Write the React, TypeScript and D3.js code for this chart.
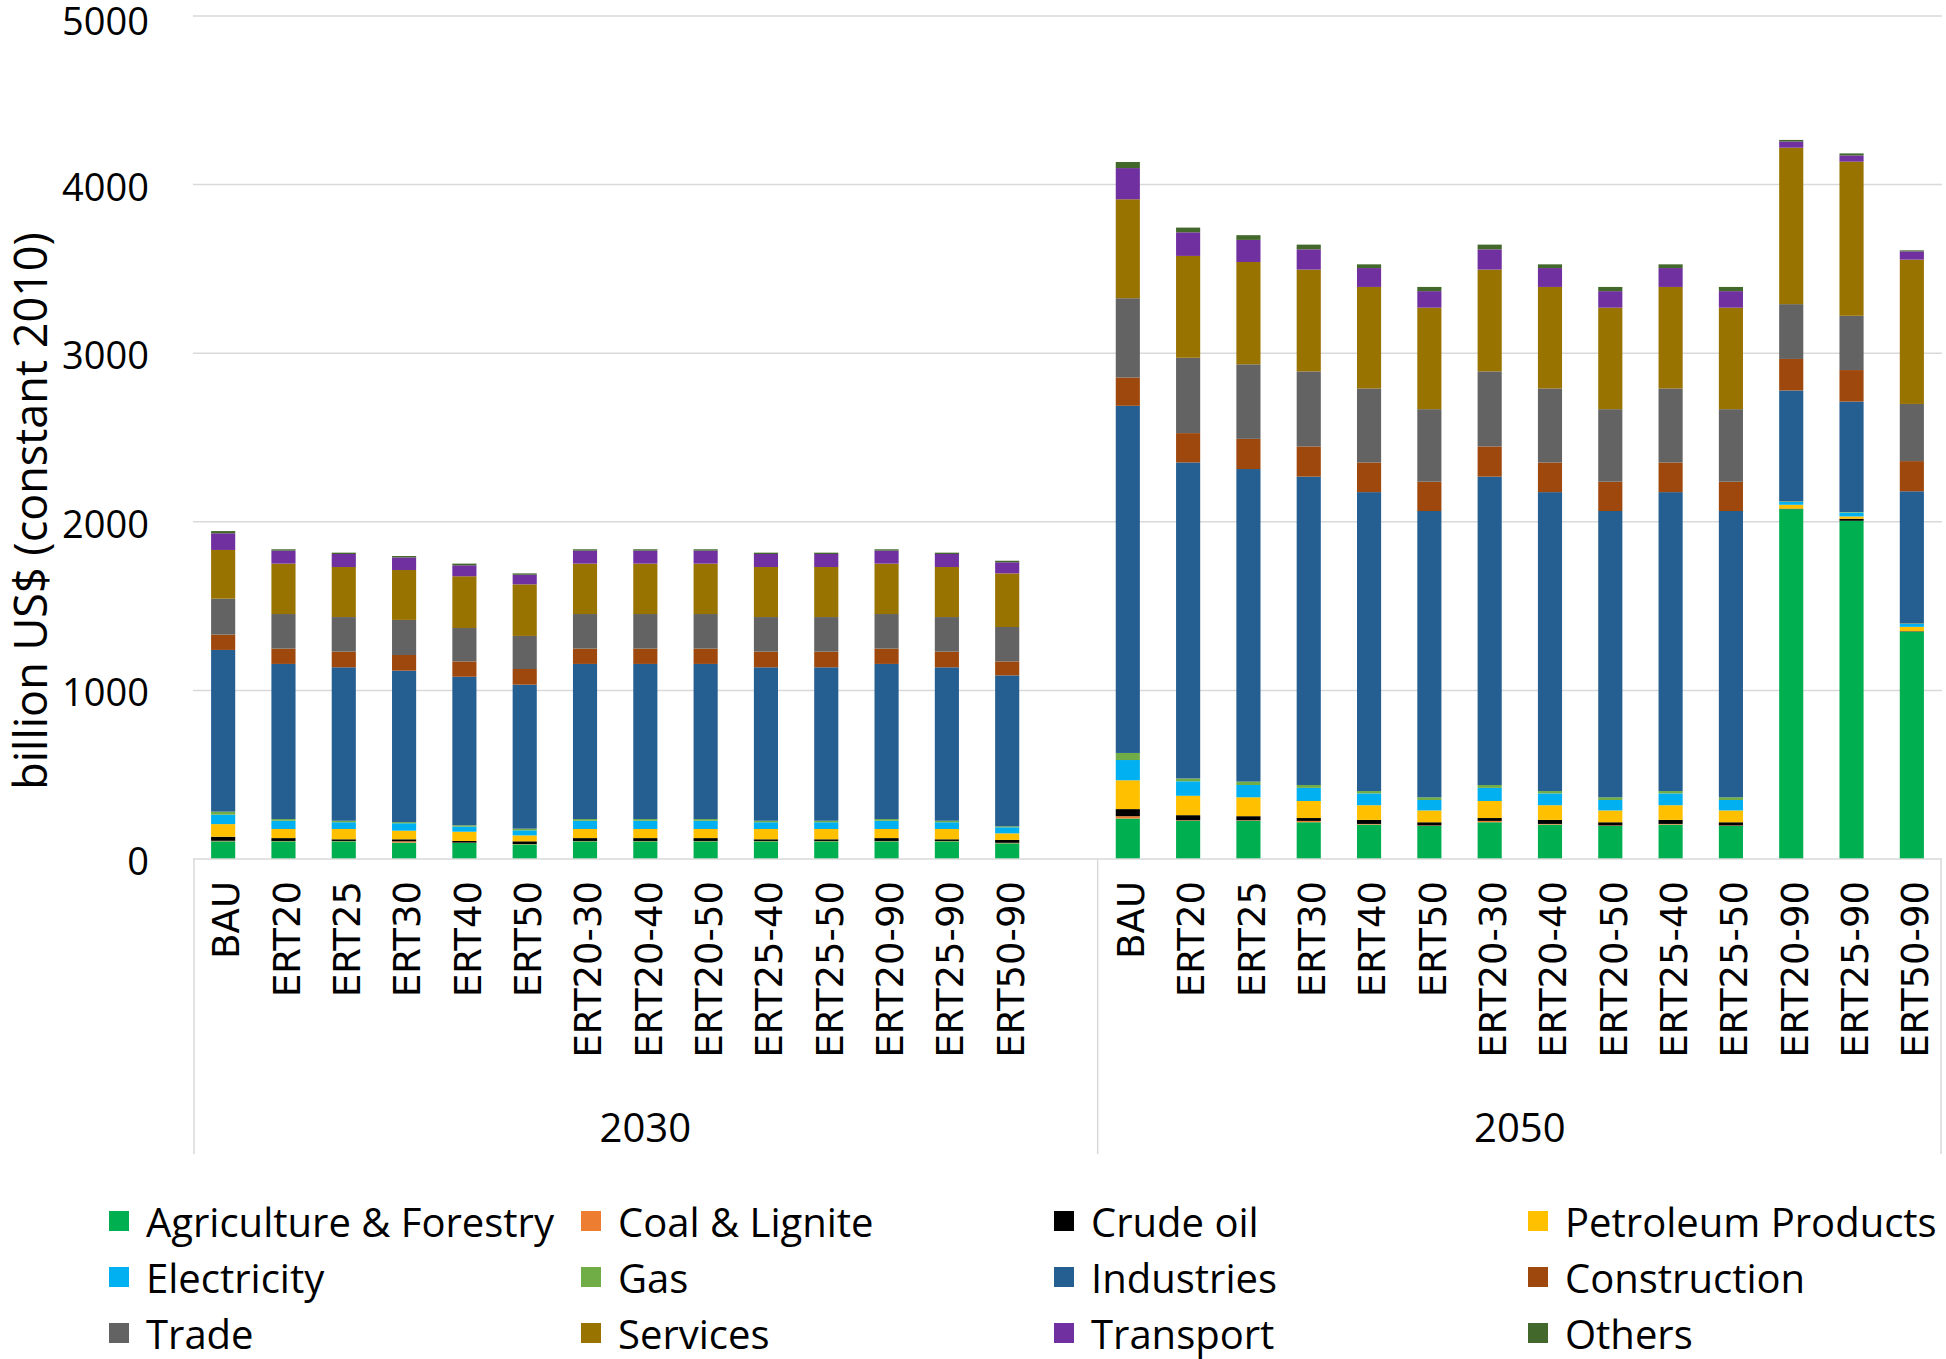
import React from "react";
import * as d3 from "d3";

const scenarios = ["BAU","ERT20","ERT25","ERT30","ERT40","ERT50","ERT20-30","ERT20-40","ERT20-50","ERT25-40","ERT25-50","ERT20-90","ERT25-90","ERT50-90"];
const years = ["2030","2050"];
const yTicks = [0,1000,2000,3000,4000,5000];

const seriesNames = ["Agriculture & Forestry","Coal & Lignite","Crude oil","Petroleum Products","Electricity","Gas","Industries","Construction","Trade","Services","Transport","Others"];
const seriesColors = ["#00B050","#ED7D31","#000000","#FFC000","#00B0F0","#70AD47","#255E91","#9E480E","#636363","#997300","#7030A0","#43682B"];

// 2030 (14 scenarios) then 2050 (14 scenarios)
const agriculture = [105,105,105,97,95,87,105,105,105,105,105,105,105,93, 240,227,227,218,204,196,218,204,196,204,196,2075,2006,1348];
const coal = [3,2,2,8,2,2,2,2,2,2,2,2,2,3, 14,3,3,8,4,3,8,4,3,4,3,0,0,0];
const crude = [24,17,10,12,10,16,17,17,17,10,10,17,10,17, 42,30,24,17,24,19,17,24,19,24,19,3,12,3];
const petroleum = [75,54,61,51,55,35,54,54,54,61,61,54,61,39, 171,115,112,101,87,70,101,87,70,87,70,23,14,26];
const electricity = [56,49,40,44,30,30,49,49,49,40,40,49,40,36, 120,86,73,78,70,62,78,70,62,70,62,17,23,17];
const gas = [18,10,9,7,8,10,10,10,10,9,9,10,9,6, 42,17,20,17,14,16,17,14,16,14,16,3,3,3];
const industries = [959,920,910,898,881,854,920,920,920,910,910,920,910,895, 2059,1874,1854,1829,1773,1698,1829,1773,1698,1773,1698,658,655,784];
const construction = [91,91,93,93,91,93,91,91,91,93,93,91,93,83, 168,174,179,179,176,174,179,176,174,176,174,187,187,179];
const trade = [213,205,205,208,198,196,205,205,205,205,205,205,205,204, 470,447,442,445,439,430,445,439,430,439,430,325,322,339];
const services = [289,299,297,296,307,306,299,299,299,297,297,299,297,318, 587,604,607,604,602,602,604,602,602,602,602,928,914,856];
const transport = [99,77,77,75,65,57,77,77,77,77,77,77,77,66, 185,140,131,120,112,98,120,112,98,112,98,37,37,49];
const others = [13,8,8,8,10,8,8,8,8,8,8,8,8,9, 36,28,28,28,22,25,28,22,25,22,25,9,12,6];

const seriesValues = [agriculture,coal,crude,petroleum,electricity,gas,industries,construction,trade,services,transport,others];

const FONT = "'Open Sans', 'Noto Sans', sans-serif";
const TICK_FONT = "'DejaVu Sans', 'Open Sans', sans-serif";

export default function App() {
  const W = 1946, H = 1359;
  const left = 193, right = 1942, top = 16, bottom = 859;

  // categories with a blank spacer between the two years
  const keys: string[] = [];
  years.forEach((yr, yi) => {
    scenarios.forEach((s) => keys.push(yr + "|" + s));
    if (yi === 0) keys.push("spacer");
  });

  const rows = [] as any[];
  years.forEach((yr, yi) => {
    scenarios.forEach((s, si) => {
      const r: any = { key: yr + "|" + s, label: s };
      seriesNames.forEach((n, k) => { r[n] = seriesValues[k][yi * scenarios.length + si]; });
      rows.push(r);
    });
  });

  const x = d3.scaleBand<string>().domain(keys).range([left, right]).paddingInner(0.6).paddingOuter(0.3);
  const y = d3.scaleLinear().domain([0, 5000]).range([bottom, top]);
  const stack = d3.stack<any>().keys(seriesNames)(rows);

  const step = x.step();
  const dividerX = left + step * (scenarios.length + 1);
  const axisBottom = 1154;

  const legendCols = [109, 581, 1054, 1528];
  const legendRows = [1221, 1277, 1333];

  return (
    <svg width={W} height={H} style={{ position: "absolute", left: 0, top: 0, background: "#fff" }} fontFamily={FONT}>
      <rect x={0} y={0} width={W} height={H} fill="#fff" />
      {yTicks.map((t) => (
        <g key={t}>
          {t > 0 && <line x1={left} x2={right} y1={y(t)} y2={y(t)} stroke="#D9D9D9" strokeWidth={1.5} />}
          <text x={149} y={Math.max(y(t) + 1, 20)} textAnchor="end" dominantBaseline="central" fontSize={38} fill="#000">{t}</text>
        </g>
      ))}
      {stack.map((layer, li) => (
        <g key={layer.key} fill={seriesColors[li]}>
          {layer.map((d: any, i: number) => (
            <rect key={i} x={x(d.data.key)} width={x.bandwidth()} y={y(d[1])} height={Math.max(0, y(d[0]) - y(d[1]))} />
          ))}
        </g>
      ))}
      {/* category axis */}
      <line x1={left} x2={right} y1={bottom} y2={bottom} stroke="#D9D9D9" strokeWidth={1.5} />
      <line x1={left + 1} x2={left + 1} y1={bottom} y2={axisBottom} stroke="#D9D9D9" strokeWidth={1.5} />
      <line x1={dividerX} x2={dividerX} y1={bottom} y2={axisBottom} stroke="#D9D9D9" strokeWidth={1.5} />
      <line x1={right - 1} x2={right - 1} y1={bottom} y2={axisBottom} stroke="#D9D9D9" strokeWidth={1.5} />
      {rows.map((r) => (
        <text key={r.key} transform={`translate(${x(r.key)! + x.bandwidth() / 2 + 3},${881}) rotate(-90)`} textAnchor="end" dy="0.36em" fontSize={37} fontFamily={TICK_FONT} fill="#000">{r.label}</text>
      ))}
      <text x={(left + dividerX) / 2} y={1126} textAnchor="middle" dominantBaseline="central" fontSize={40} fill="#000">{years[0]}</text>
      <text x={(dividerX + right) / 2} y={1126} textAnchor="middle" dominantBaseline="central" fontSize={40} fill="#000">{years[1]}</text>
      <text transform={`translate(29,511) rotate(-90)`} textAnchor="middle" dominantBaseline="central" fontSize={45} fill="#000">billion US$ (constant 2010)</text>
      {seriesNames.map((n, i) => {
        const cx = legendCols[i % 4];
        const cy = legendRows[Math.floor(i / 4)];
        return (
          <g key={n}>
            <rect x={cx} y={cy - 10} width={20} height={20} fill={seriesColors[i]} />
            <text x={cx + 37} y={cy} dominantBaseline="central" fontSize={40} fill="#000">{n}</text>
          </g>
        );
      })}
    </svg>
  );
}
